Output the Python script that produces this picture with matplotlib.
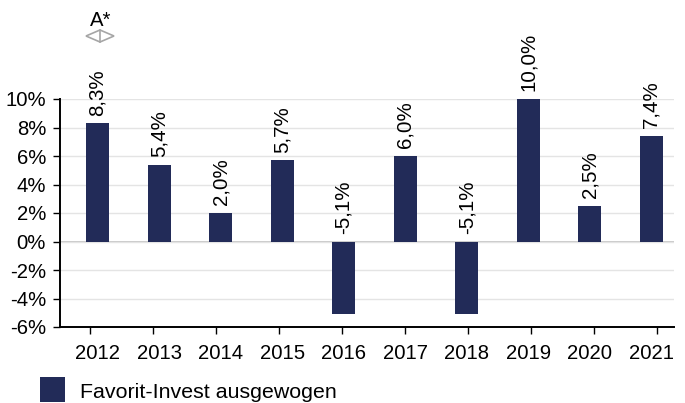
import matplotlib
matplotlib.use("Agg")
import matplotlib.pyplot as plt
from matplotlib.patches import Polygon

YEARS = ["2012", "2013", "2014", "2015", "2016", "2017", "2018", "2019", "2020", "2021"]
VALUES = [8.3, 5.4, 2.0, 5.7, -5.1, 6.0, -5.1, 10.0, 2.5, 7.4]
LABELS = ["8,3%", "5,4%", "2,0%", "5,7%", "-5,1%", "6,0%", "-5,1%", "10,0%", "2,5%", "7,4%"]
TICKS = [-6, -4, -2, 0, 2, 4, 6, 8, 10]
TICK_LABELS = ["-6%", "-4%", "-2%", "0%", "2%", "4%", "6%", "8%", "10%"]
SERIES = "Favorit-Invest ausgewogen"
NAVY = "#222B58"

plt.rcParams["font.family"] = ["Liberation Sans", "DejaVu Sans"]


def main():
    fig = plt.figure(figsize=(6.85, 4.03), dpi=100)
    ax = fig.add_axes([60 / 685, 1 - 327 / 403, 614 / 685, 228 / 403])
    x = list(range(len(YEARS)))
    ax.bar(x, VALUES, width=0.374, color=NAVY, zorder=3)
    ax.set_xlim(-0.61, 9.37)
    ax.set_ylim(-6, 10)
    ax.set_yticks(TICKS)
    ax.set_yticklabels(TICK_LABELS, fontsize=14.6)
    ax.tick_params(axis="y", length=5, width=1, pad=5)

    # tick marks do not line up with the bars, the spacing is slightly wider
    ax.xaxis.remove_overlapping_locs = False
    ax.set_xticks([i * 63 / 61.5 - 0.122 for i in x])
    ax.set_xticklabels([])
    ax.tick_params(axis="x", which="major", length=5, width=1)
    ax.set_xticks(x, minor=True)
    ax.set_xticklabels(YEARS, minor=True, fontsize=14.6)
    ax.tick_params(axis="x", which="minor", length=0, pad=12.5)

    ax.grid(axis="y", color="#E4E4E4", linewidth=1, zorder=0)
    ax.axhline(0, color="#BDBDBD", linewidth=1.2, zorder=1)
    ax.spines[["top", "right"]].set_visible(False)
    ax.spines[["left", "bottom"]].set_linewidth(1.4)

    for i, (v, label) in enumerate(zip(VALUES, LABELS)):
        ax.annotate(label, (i, max(v, 0)), xytext=(0, 5.5), textcoords="offset points",
                    rotation=90, ha="center", va="bottom", fontsize=14.8,
                    annotation_clip=False, zorder=4)

    # A* marker above the first bar
    fig.text(100.5 / 685, 1 - 21 / 403, "A*", fontsize=14.6, ha="center", va="center")
    fig.add_artist(Polygon([(86 / 685, 1 - 36 / 403), (100 / 685, 1 - 30 / 403),
                            (114 / 685, 1 - 36 / 403), (100 / 685, 1 - 42 / 403)],
                           closed=True, transform=fig.transFigure,
                           facecolor="white", edgecolor="#A6A6A6", linewidth=1.2))
    fig.add_artist(plt.Line2D([100 / 685, 100 / 685], [1 - 30 / 403, 1 - 42 / 403],
                              transform=fig.transFigure, color="#A6A6A6", linewidth=1.2))

    # legend swatch
    fig.add_artist(plt.Rectangle((40 / 685, 1 - 402 / 403), 25 / 685, 25 / 403,
                                 transform=fig.transFigure, facecolor=NAVY, edgecolor="none"))
    fig.text(80 / 685, 1 - 392 / 403, SERIES, fontsize=15.4, ha="left", va="center")

    fig.savefig("out.png", dpi=100)
    plt.close(fig)


if __name__ == "__main__":
    main()
